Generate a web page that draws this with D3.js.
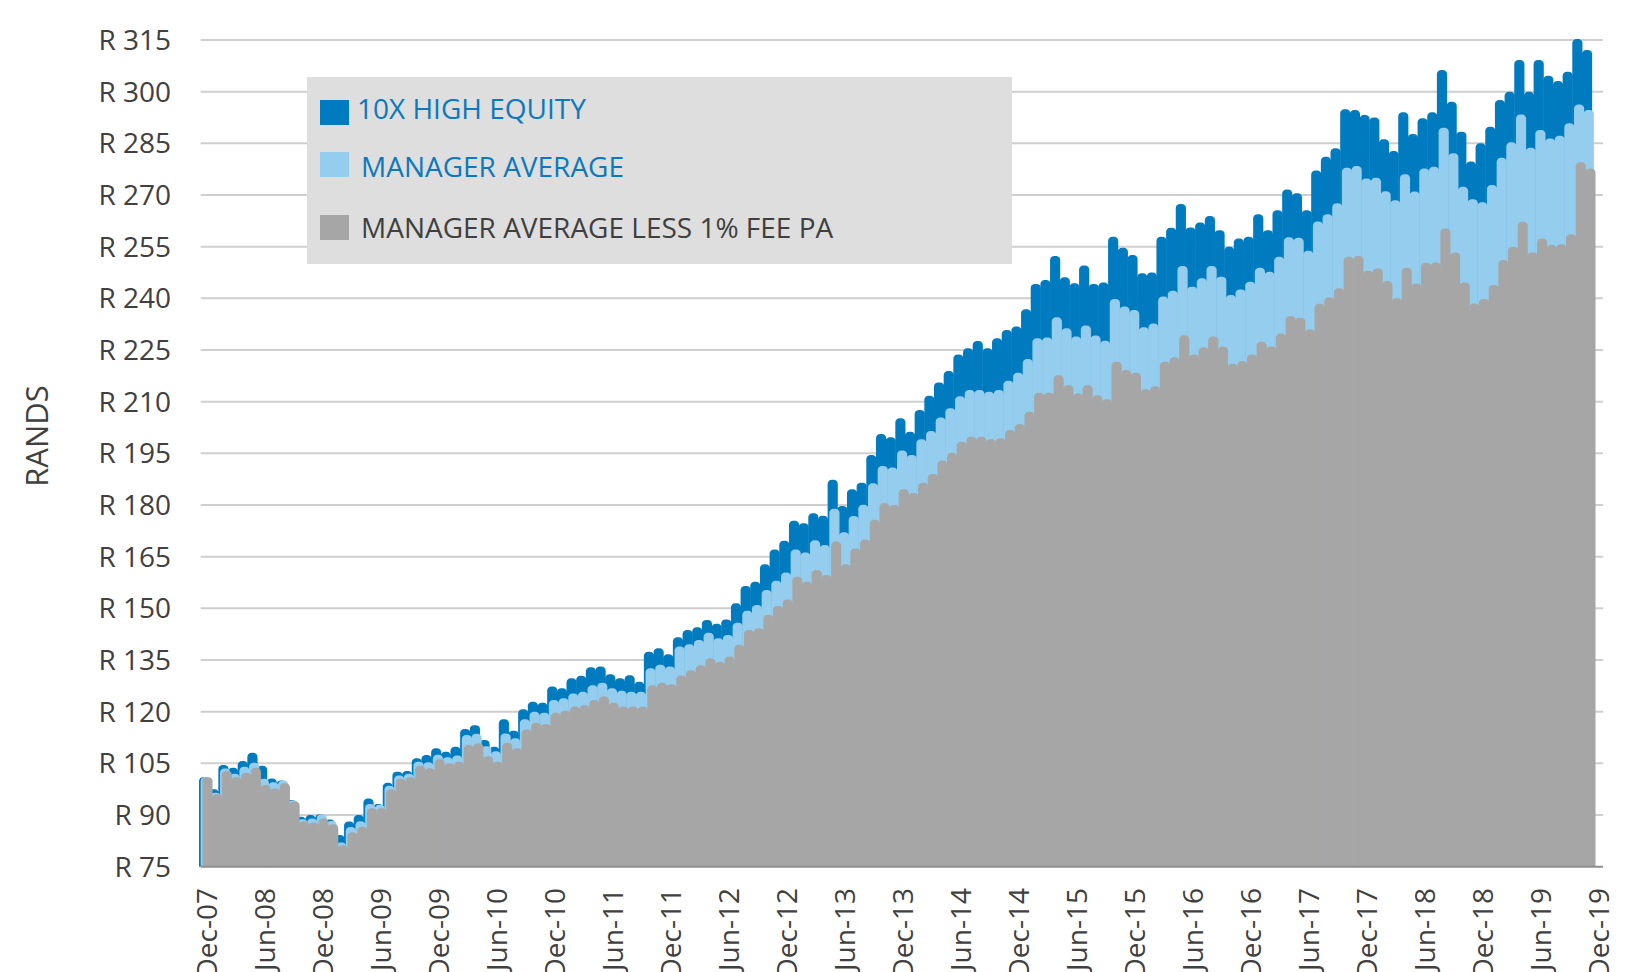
<!DOCTYPE html>
<html lang="en">
<head>
<meta charset="utf-8">
<title>Growth of R100</title>
<style>
  body { margin: 0; background: #fff; }
  text { font-family: "Open Sans", sans-serif; }
  .grid line { stroke: #cfcfcf; stroke-width: 2; }
  .tick-y { fill: #404040; font-size: 28px; }
  .tick-x { fill: #404040; font-size: 28px; }
</style>
</head>
<body>
<svg width="1642" height="972"></svg>
<script src="https://d3js.org/d3.v7.min.js"></script>
<script>

// monthly values, Dec-07 .. Nov-19
var tenX = [
  101,97.5,104.5,103.7,105.7,108.1,104.3,100.6,100,94.4,
  89.5,90,90.2,88.7,84.2,88.1,90,94.8,93.2,99.4,
  102.6,102.8,106.5,107.4,109.4,108.4,109.8,115,116.1,111.8,
  109.8,117.8,114.5,120.7,122.9,122.6,127.3,126.8,129.7,130.4,
  132.9,133.1,130.9,129.7,130.6,128.7,137.4,138.4,136.7,141.6,
  143.7,144.5,146.6,145.5,146.8,151.5,156.5,157.7,162.8,167.1,
  169.6,175.4,174.7,177.6,176.9,187.3,179.7,184.6,186.5,194.5,
  200.6,199.7,205.2,201.3,207.6,211.7,215.6,218.9,223.7,225.5,
  227.6,225.5,228.4,230.8,231.8,236.8,244.2,245.3,252.3,246.1,
  244.4,249.5,244.2,244.6,257.9,254.7,252.6,247.3,247.5,257.9,
  260.5,267.4,260.6,262,263.9,259.8,255,257.4,257.9,264.4,
  259.8,265.6,271.6,270.5,265.6,277.1,281.1,283.6,294.9,294.7,
  293.2,292.5,286.2,282.8,294,287.7,292.3,294,306.3,297.1,
  288.4,279.7,285,289.8,297.6,300,309.2,300,309.2,304.6,
  303.1,305.8,315.3,312.1
];

var managerAvg = [
  101,96.5,103.5,102,104,105.2,100.5,99.5,100,94.2,
  88.8,89,90.2,88.3,82,86.5,88.2,93.2,93,98.5,
  101.5,102,105.5,105.3,107.5,106.8,107.3,113.2,113.6,110,
  108.5,113.7,112.3,117.8,120,119.7,123.4,123.9,125.3,125.8,
  127.7,128.4,126.8,126.1,125.8,125.8,132.6,133.6,133.1,138.9,
  139.6,140.8,142.9,141.3,142.3,145.8,149.3,151,155.3,158,
  160.4,167.1,166.2,169.8,168.4,178.9,172.1,176.8,180.1,186.3,
  191.3,190.9,195.8,194.5,199.1,201.5,205.4,208.1,211.6,213.4,
  213.4,212.9,213.4,216.1,218.4,222.4,228.4,228.6,234.5,231.3,
  228.9,232.1,229.2,227.7,239.8,237.6,236.6,231.6,232.7,240.5,
  242.2,249.4,243.4,245.8,249.4,246.3,241,242.6,244.8,248.9,
  247.7,252.1,257.7,257.6,253.8,262.3,264.4,267.6,277.9,278.4,
  274.8,275,271.1,268.5,276,271,277.7,278.2,289.5,282.1,
  272.4,268.8,267.9,272.9,280.8,285.3,293.4,283.7,288.9,286.4,
  287.2,290.8,296.3,294.7
];

var managerLessFee = [
  101,96,102.8,101,102.3,103.7,98.7,97.7,99.2,93.9,
  88.2,87.8,89,87.3,81.2,85,86.6,92,92,97.5,
  100.5,101,104.3,103.6,106.2,105,105.5,110.3,110.8,107.1,
  105.5,111,109.4,114.8,116.8,116.4,119.7,120.3,121.5,121.9,
  123.4,124.4,122.6,121.5,121.5,121.5,127.7,128.4,128,130.5,
  132,133.5,135.5,134.5,136,139.4,143.7,144.2,148.1,150.7,
  152.6,159.2,157.7,161.1,159.7,169.4,162.8,167.4,170,175.7,
  180.5,180,184.6,183.5,186.5,189,192.9,195.2,198.4,199.8,
  199.8,199.1,199.4,201.8,203.5,207.1,212.6,212.6,217.7,214.8,
  212.4,214.8,211.9,210.7,221.6,219.2,218.4,213.6,214.5,221.6,
  222.9,229.3,223.7,225.8,228.9,226,221,221.8,223.7,227.4,
  226,229.8,234.9,234.4,231,238.4,240.3,242.9,252.1,252.3,
  248,248.7,245,240,248.9,244.3,250.3,250.4,260.3,253.3,
  244.6,238.5,239.8,243.9,251.1,255,262.2,253.3,257.4,255.5,
  255.7,258.6,279.5,277.7
];

var tickLabels = ["Dec-07","Jun-08","Dec-08","Jun-09","Dec-09","Jun-10","Dec-10",
  "Jun-11","Dec-11","Jun-12","Dec-12","Jun-13","Dec-13","Jun-14","Dec-14","Jun-15",
  "Dec-15","Jun-16","Dec-16","Jun-17","Dec-17","Jun-18","Dec-18","Jun-19","Dec-19"];

var yTicks = d3.range(75, 316, 15);

var seriesNames = ["10X HIGH EQUITY", "MANAGER AVERAGE", "MANAGER AVERAGE LESS 1% FEE PA"];

// category axis: every month Dec-07 .. Dec-19 (145 slots)
var fmt = d3.timeFormat("%b-%y");
var months = d3.timeMonth.range(new Date(2007, 11, 1), new Date(2019, 11, 2)).map(fmt);

var svg = d3.select("svg"),
    plotLeft = 200.7, plotRight = 1603, plotTop = 40, plotBottom = 866.7;

var x = d3.scaleBand().domain(months).range([plotLeft, plotRight]).padding(0);
var y = d3.scaleLinear().domain([75, 315]).range([plotBottom, plotTop]);

// gridlines
svg.append("g").attr("class", "grid")
  .selectAll("line")
  .data(yTicks.slice(1))
  .enter().append("line")
    .attr("x1", plotLeft).attr("x2", plotRight)
    .attr("y1", function(d) { return y(d); })
    .attr("y2", function(d) { return y(d); });

// y labels
svg.append("g")
  .selectAll("text")
  .data(yTicks)
  .enter().append("text")
    .attr("class", "tick-y")
    .attr("x", 171)
    .attr("y", function(d) { return y(d); })
    .attr("dy", "0.36em")
    .attr("text-anchor", "end")
    .text(function(d) { return "R " + d; });

svg.append("text")
    .attr("transform", "translate(37,436) rotate(-90)")
    .attr("dy", "0.36em")
    .attr("text-anchor", "middle")
    .style("font-size", "31px")
    .style("fill", "#404040")
    .text("RANDS");

// legend box (sits over the gridlines)
var legend = svg.append("g");
legend.append("rect")
    .attr("x", 307).attr("y", 77).attr("width", 705).attr("height", 187)
    .attr("fill", "#dedede");

var colors = ["#007bbf", "#94cdee", "#a6a6a6"];
var textColors = ["#0b79bf", "#0b79bf", "#404040"];
var legendY = [100, 152, 215];
var legendTextX = [357, 361, 361];
var legendBase = [119, 176.5, 237.5];

seriesNames.forEach(function(name, i) {
  legend.append("rect")
      .attr("x", 320).attr("y", legendY[i])
      .attr("width", 29).attr("height", 25)
      .attr("fill", colors[i]);
  legend.append("text")
      .attr("x", legendTextX[i]).attr("y", legendBase[i])
      .style("font-size", "28px")
      .style("fill", textColors[i])
      .text(name);
});

// bars with rounded tops
function barPath(x0, w, yt, yb) {
  var r = Math.min(4.2, w / 2, yb - yt);
  return "M" + x0 + "," + yb +
    "V" + (yt + r) +
    "A" + r + "," + r + " 0 0 1 " + (x0 + r) + "," + yt +
    "H" + (x0 + w - r) +
    "A" + r + "," + r + " 0 0 1 " + (x0 + w) + "," + (yt + r) +
    "V" + yb + "Z";
}

var allSeries = [tenX, managerAvg, managerLessFee];
var shift = [-1.7, 0, 1.7];

allSeries.forEach(function(vals, s) {
  svg.append("g")
    .selectAll("path")
    .data(vals)
    .enter().append("path")
      .attr("fill", colors[s])
      .attr("d", function(d, i) {
        return barPath(x(months[i]) + shift[s], x.bandwidth() + 0.5, y(d), y(75));
      });
});

// axis line
svg.append("line")
    .attr("x1", plotLeft).attr("x2", plotRight)
    .attr("y1", y(75)).attr("y2", y(75))
    .attr("stroke", "#8f8f8f").attr("stroke-width", 2);

// x labels
svg.append("g")
  .selectAll("text")
  .data(tickLabels)
  .enter().append("text")
    .attr("class", "tick-x")
    .attr("transform", function(d) {
      return "translate(" + (x(d) + x.bandwidth() / 2 + 1) + ",888) rotate(-90)";
    })
    .attr("dy", "0.36em")
    .attr("text-anchor", "end")
    .text(function(d) { return d; });

</script>
</body>
</html>
